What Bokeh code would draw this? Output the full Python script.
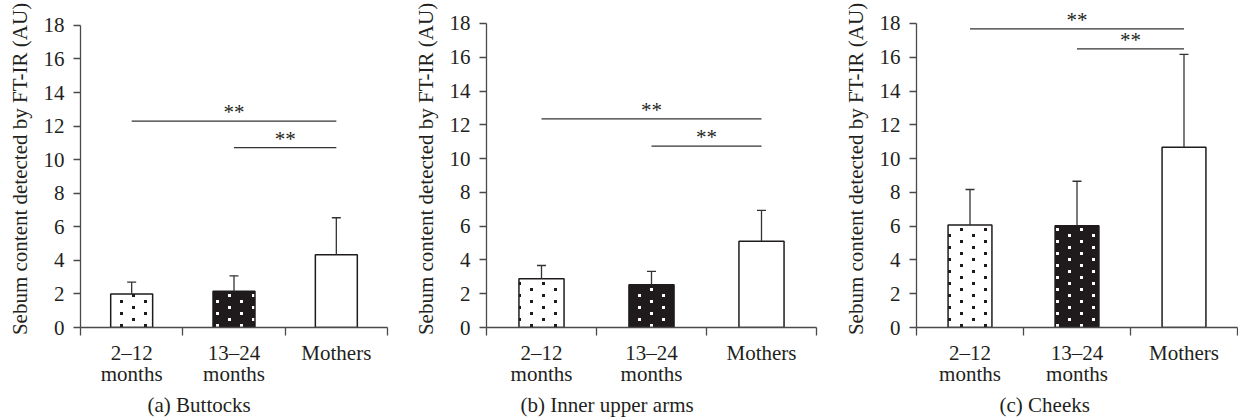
from bokeh.plotting import figure
from bokeh.layouts import row
from bokeh.models import (ColumnDataSource, Range1d, FixedTicker, Whisker,
                          TeeHead, Title, CanvasTexture)
from bokeh.core.properties import value
from bokeh.embed import file_html
from bokeh.resources import INLINE

# ---------------- data ----------------
groups = ["2–12\nmonths", "13–24\nmonths", "Mothers"]
y_ticks = [0, 2, 4, 6, 8, 10, 12, 14, 16, 18]
y_label = "Sebum content detected by FT-IR (AU)"
sig_text = "**"

captions = ["(a)  Buttocks", "(b)  Inner upper arms", "(c)  Cheeks"]

buttocks_mean = [2.0, 2.16, 4.34]
buttocks_sd = [0.7, 0.92, 2.2]
arms_mean = [2.88, 2.53, 5.11]
arms_sd = [0.79, 0.79, 1.82]
cheeks_mean = [6.07, 6.03, 10.67]
cheeks_sd = [2.1, 2.63, 5.5]

# significance brackets: start group index, end group index, height
buttocks_sig_from = [0, 1]
buttocks_sig_to = [2, 2]
buttocks_sig_y = [12.3, 10.72]
arms_sig_from = [0, 1]
arms_sig_to = [2, 2]
arms_sig_y = [12.35, 10.74]
cheeks_sig_from = [0, 1]
cheeks_sig_to = [2, 2]
cheeks_sig_y = [17.68, 16.5]

# ---------------- style ----------------
FONT = "'Liberation Serif', serif"
TXT = "#231f20"
AX = "#4a4a4a"
DARK = "#1f1b1c"
bar_fill = ["white", DARK, "white"]
bar_hatch = ["dk", "lt", " "]

DOTS = """
var c = ctx.canvas;
c.width = 24; c.height = 24;
ctx.setTransform(1, 0, 0, 1, 0, 0);
ctx.clearRect(0, 0, 24, 24);
ctx.fillStyle = %s;
ctx.fillRect(0, 0, 3, 3);
ctx.fillRect(12, 6, 3, 3);
ctx.fillRect(0, 12, 3, 3);
ctx.fillRect(12, 18, 3, 3);
"""
textures = {"dk": CanvasTexture(code=DOTS % "'#1f1b1c'"),
            "lt": CanvasTexture(code=DOTS % "'#ffffff'")}


def panel(means, sds, sfrom, sto, sy, caption, cap_off, width, bl, br,
          y_end, bb):
    n = len(groups)
    centers = [i + 0.5 for i in range(n)]
    p = figure(x_range=Range1d(0, n), y_range=Range1d(0, y_end),
               width=width, height=419, output_backend="svg",
               toolbar_location=None, min_border_left=bl, min_border_right=br,
               min_border_top=10, min_border_bottom=bb)
    p.grid.visible = False
    p.outline_line_color = None

    ya = p.yaxis[0]
    ya.ticker = FixedTicker(ticks=y_ticks)
    ya.bounds = (0, 18)
    ya.axis_line_color = AX
    ya.axis_line_width = 1.3
    ya.major_tick_line_color = AX
    ya.major_tick_line_width = 1.3
    ya.major_tick_out = 7
    ya.major_tick_in = 0
    ya.minor_tick_line_color = None
    ya.major_label_text_font = FONT
    ya.major_label_text_font_size = "21px"
    ya.major_label_text_color = TXT
    ya.major_label_standoff = 9
    ya.axis_label = y_label
    ya.axis_label_text_font = FONT
    ya.axis_label_text_font_size = "21px"
    ya.axis_label_text_font_style = "normal"
    ya.axis_label_text_color = TXT
    ya.axis_label_standoff = 9

    xa = p.xaxis[0]
    xa.ticker = FixedTicker(ticks=centers, minor_ticks=list(range(n + 1)))
    xa.major_label_overrides = {c: g for c, g in zip(centers, groups)}
    xa.axis_line_color = AX
    xa.axis_line_width = 1.3
    xa.major_tick_line_color = None
    xa.minor_tick_line_color = AX
    xa.minor_tick_line_width = 1.3
    xa.minor_tick_out = 8
    xa.minor_tick_in = 0
    xa.major_tick_out = 8
    xa.major_tick_in = 0
    xa.major_label_text_font = FONT
    xa.major_label_text_font_size = "21px"
    xa.major_label_text_color = TXT
    xa.major_label_text_line_height = 0.88
    xa.major_label_standoff = 5

    src = ColumnDataSource(dict(
        x=centers, top=means, upper=[m + s for m, s in zip(means, sds)],
        fill=bar_fill, hatch=bar_hatch))
    p.vbar(x="x", top="top", width=0.41, source=src, fill_color="fill",
           line_color=DARK, line_width=1.5, hatch_pattern="hatch",
           hatch_extra=textures, hatch_scale=24, hatch_weight=3)
    p.add_layout(Whisker(base="x", lower="top", upper="upper", source=src,
                         line_color="#333333", line_width=1.3,
                         upper_head=TeeHead(size=9, line_color="#333333",
                                            line_width=1.3),
                         lower_head=None, level="glyph"))

    ssrc = ColumnDataSource(dict(
        x0=[centers[i] for i in sfrom], x1=[centers[j] for j in sto], y=sy,
        xm=[(centers[i] + centers[j]) / 2 for i, j in zip(sfrom, sto)],
        t=[sig_text] * len(sy)))
    p.segment(x0="x0", x1="x1", y0="y", y1="y", source=ssrc,
              line_color="#333333", line_width=1.3)
    p.text(x="xm", y="y", text="t", source=ssrc,
           text_align="center", text_baseline="alphabetic", y_offset=-9,
           text_font=value(FONT), text_font_size="21px", text_color=TXT)

    p.add_layout(Title(text=caption, align="left", offset=cap_off,
                       text_font=FONT, text_font_size="21px",
                       text_font_style="normal", text_color=TXT,
                       standoff=4), "below")
    return p


pa = panel(buttocks_mean, buttocks_sd, buttocks_sig_from, buttocks_sig_to,
           buttocks_sig_y, captions[0], 67, 410, 80, 23, 18 + 15 / 16.89, 90)
pb = panel(arms_mean, arms_sd, arms_sig_from, arms_sig_to, arms_sig_y,
           captions[1], 34, 430, 73, 24, 18 + 13 / 16.89, 92)
pc = panel(cheeks_mean, cheeks_sd, cheeks_sig_from, cheeks_sig_to,
           cheeks_sig_y, captions[2], 83, 398, 73, 1, 18 + 13 / 16.89, 92)

layout = row(pa, pb, pc, spacing=0)
open("out.html", "w").write(file_html(layout, INLINE))
